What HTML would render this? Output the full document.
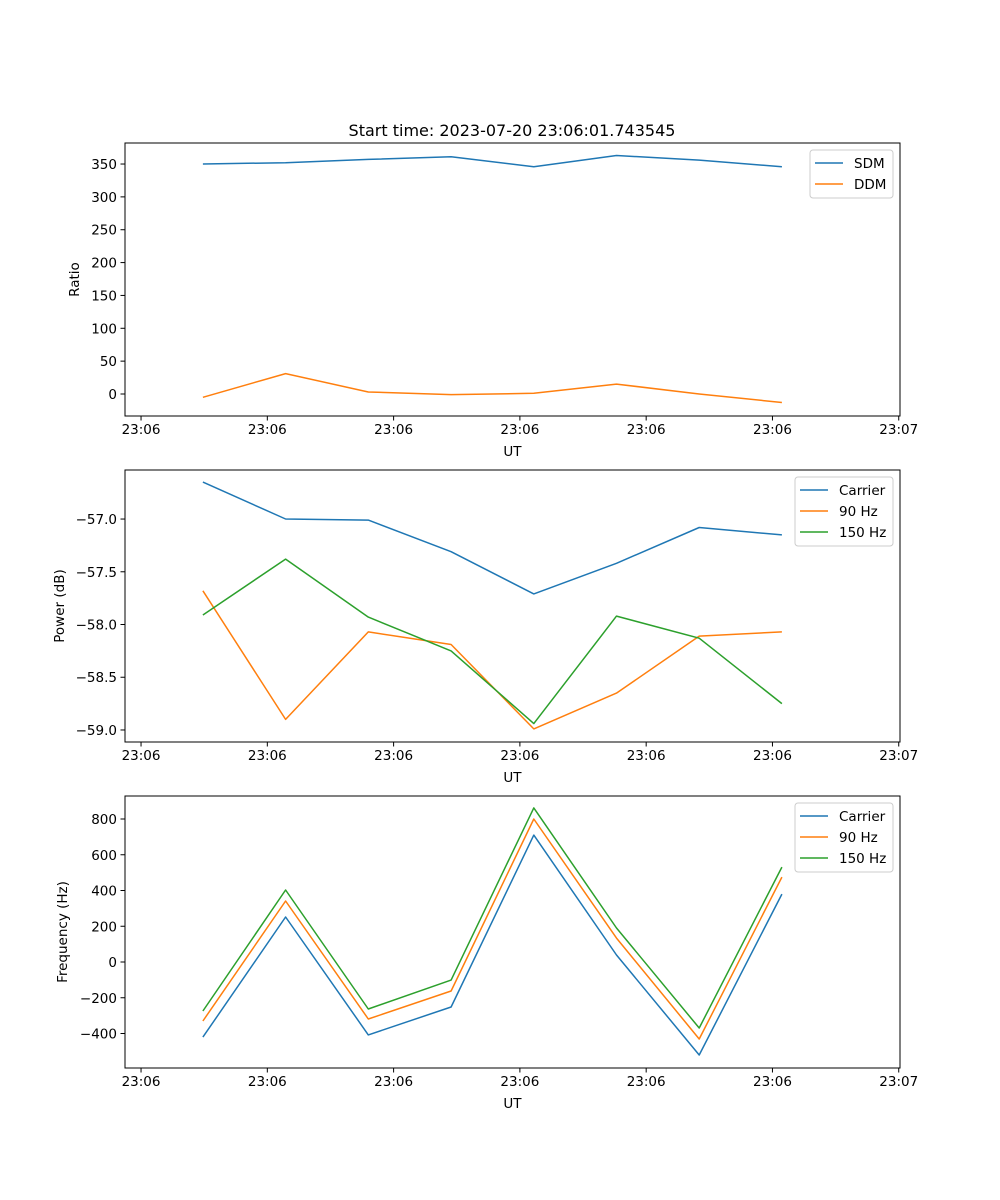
<!DOCTYPE html>
<html><head><meta charset="utf-8">
<style>
html,body{margin:0;padding:0;background:#fff;}
svg{display:block;font-family:"DejaVu Sans","Liberation Sans",sans-serif;}
</style></head>
<body>
<svg id="fig" width="1000" height="1200" viewBox="0 0 1000 1200" xmlns="http://www.w3.org/2000/svg">
<rect width="1000" height="1200" fill="#fff"/>
<text x="512" y="136" font-size="16" text-anchor="middle">Start time: 2023-07-20 23:06:01.743545</text>
</svg>
<script>
// shared x data (arbitrary time units; ticks at integer units)
const xValues = [0.49, 1.145, 1.80, 2.455, 3.11, 3.765, 4.42, 5.075];
const xTickValues = [0, 1, 2, 3, 4, 5, 6];
const xTickLabels = ["23:06","23:06","23:06","23:06","23:06","23:06","23:07"];
// panel 1
const sdm = [350, 352, 357, 361, 346, 363, 356, 346];
const ddm = [-5, 31, 3, -1, 1, 15, 0, -13];
const ratioTicks = [0, 50, 100, 150, 200, 250, 300, 350];
// panel 2
const powCarrier = [-56.65, -57.0, -57.01, -57.31, -57.71, -57.42, -57.08, -57.15];
const pow90 = [-57.68, -58.9, -58.07, -58.19, -58.99, -58.65, -58.11, -58.07];
const pow150 = [-57.91, -57.38, -57.93, -58.25, -58.94, -57.92, -58.13, -58.75];
const powTicks = [-57.0, -57.5, -58.0, -58.5, -59.0];
// panel 3
const freqCarrier = [-420, 252, -408, -252, 710, 39, -520, 380];
const freq90 = [-330, 341, -319, -162, 800, 134, -431, 475];
const freq150 = [-274, 403, -263, -101, 862, 190, -369, 531];
const freqTicks = [-400, -200, 0, 200, 400, 600, 800];

const NS = "http://www.w3.org/2000/svg";
const svg = document.getElementById("fig");
const C = {blue:"#1f77b4", orange:"#ff7f0e", green:"#2ca02c"};
function mk(tag, attrs, parent){const e=document.createElementNS(NS,tag);for(const k in attrs)e.setAttribute(k,attrs[k]);(parent||svg).appendChild(e);return e;}
const L=125,R=900;
const xMin=-0.127,xMax=6.01;
function xs(v){return L+(v-xMin)/(xMax-xMin)*(R-L);}
function fmtMinus(s){return s.replace("-","\u2212");}

function panel(name, top, bottom, yMin, yMax, yTicks, yFmt, ylabel, ylabelX, series, legend){
  const g=mk("g",{});
  
  
  const ys=v=>bottom-(v-yMin)/(yMax-yMin)*(bottom-top);
  series.forEach(s=>{
    const pts=s.vals.map((v,i)=>xs(xValues[i]).toFixed(1)+","+ys(v).toFixed(1)).join(" ");
    const p=mk("polyline",{points:pts,fill:"none",stroke:s.color,"stroke-width":"1.5","stroke-linejoin":"round"},g);
    
    
  });
  const fr=mk("rect",{x:L,y:top,width:R-L,height:bottom-top,fill:"none",stroke:"#000","stroke-width":"1"},g);
  
  
  xTickValues.forEach((v,i)=>{
    const x=xs(v);
    mk("line",{x1:x,y1:bottom,x2:x,y2:bottom+4.5,stroke:"#000"},g);
    const t=mk("text",{x:x,y:bottom+18,"font-size":"13.5","text-anchor":"middle"},g);
    t.textContent=xTickLabels[i];
    
    
  });
  const xl=mk("text",{x:(L+R)/2,y:bottom+40,"font-size":"13.5","text-anchor":"middle"},g);
  xl.textContent="UT";
  
  
  yTicks.forEach(v=>{
    const y=ys(v);
    mk("line",{x1:L-4.5,y1:y,x2:L,y2:y,stroke:"#000"},g);
    const t=mk("text",{x:L-8,y:y+5,"font-size":"13.5","text-anchor":"end"},g);
    t.textContent=fmtMinus(yFmt(v));
    
    
  });
  const yl=mk("text",{x:ylabelX,y:(top+bottom)/2,"font-size":"13.5","text-anchor":"middle",transform:`rotate(-90 ${ylabelX} ${(top+bottom)/2})`},g);
  yl.textContent=ylabel;
  
  
  // legend
  const lg=mk("g",{},g);
  
  
  mk("rect",{x:legend.x,y:top+7,width:893-legend.x,height:series.length*21+6,rx:3,fill:"#fff",stroke:"#ccc","stroke-width":"1"},lg);
  series.forEach((s,i)=>{
    const y=top+20+i*21;
    mk("line",{x1:legend.x+5,y1:y,x2:legend.x+33,y2:y,stroke:s.color,"stroke-width":"1.5"},lg);
    const t=mk("text",{x:legend.x+44,y:y+5,"font-size":"13.5"},lg);
    t.textContent=s.label;
    
    
  });
}
panel("ratio-panel",143,416,-33.5,382,ratioTicks,v=>String(v),"Ratio",79,
  [{key:"sdm",label:"SDM",vals:sdm,color:C.blue},{key:"ddm",label:"DDM",vals:ddm,color:C.orange}],{x:810});
panel("power-panel",470,742,-59.114,-56.535,powTicks,v=>v.toFixed(1),"Power (dB)",64,
  [{key:"carrier",label:"Carrier",vals:powCarrier,color:C.blue},{key:"hz90",label:"90 Hz",vals:pow90,color:C.orange},{key:"hz150",label:"150 Hz",vals:pow150,color:C.green}],{x:795});
panel("frequency-panel",796,1068,-593,928.7,freqTicks,v=>String(v),"Frequency (Hz)",67,
  [{key:"carrier",label:"Carrier",vals:freqCarrier,color:C.blue},{key:"hz90",label:"90 Hz",vals:freq90,color:C.orange},{key:"hz150",label:"150 Hz",vals:freq150,color:C.green}],{x:795});
</script>
</body></html>
